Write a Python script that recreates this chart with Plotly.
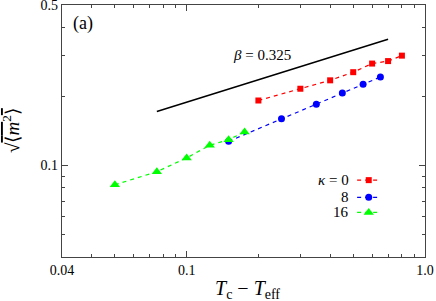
import plotly.graph_objects as go

# ---- data ----
x_k0 = [0.2, 0.3, 0.4, 0.5, 0.6, 0.7, 0.8]
y_k0 = [0.192, 0.216, 0.235, 0.255, 0.278, 0.285, 0.301]

x_k8 = [0.15, 0.25, 0.35, 0.45, 0.55, 0.65]
y_k8 = [0.1275, 0.160, 0.185, 0.207, 0.226, 0.243]

x_k16 = [0.05, 0.075, 0.1, 0.125, 0.15, 0.175]
y_k16 = [0.0825, 0.094, 0.108, 0.1225, 0.1297, 0.140]

x_beta = [0.075, 0.7]
y_beta = [0.172, 0.355]

legend_names = ["<i>κ</i> = 0", "8", "16"]
x_ticks = [0.03, 0.1, 1.0]
x_ticktext = ["0.04", "0.1", "1.0"]
x_minor = [0.04, 0.05, 0.06, 0.07, 0.08, 0.09, 0.2, 0.3, 0.4, 0.5, 0.6, 0.7, 0.8, 0.9]
y_ticks = [0.1, 0.5]
y_ticktext = ["0.1", "0.5"]
y_minor = [0.05, 0.06, 0.07, 0.08, 0.09, 0.2, 0.3, 0.4]

FONT = "Liberation Serif"
colors = ["#ff0000", "#0000ff", "#00ff00"]
symbols = ["square", "circle", "triangle-up"]
sizes = [6, 7, 9]
dash = "4px,4px"

fig = go.Figure()

series = [(x_k0, y_k0), (x_k8, y_k8), (x_k16, y_k16)]
for (xs, ys), c, s, sz in zip(series, colors, symbols, sizes):
    fig.add_trace(go.Scatter(
        x=xs, y=ys, mode="lines+markers",
        line=dict(color=c, width=1.2, dash=dash),
        marker=dict(color=c, symbol=s, size=sz, line=dict(width=0)),
        showlegend=False,
    ))

fig.add_trace(go.Scatter(x=x_beta, y=y_beta, mode="lines",
                         line=dict(color="black", width=1.5), showlegend=False))

# ---- custom legend (text left of sample) on an overlay unit axis ----
leg_rows = [0.305, 0.237, 0.177]
for name, c, s, sz, ry in zip(legend_names, colors, symbols, sizes, leg_rows):
    fig.add_trace(go.Scatter(
        x=[0.813, 0.845, 0.878], y=[ry, ry, ry], xaxis="x2", yaxis="y2",
        mode="lines", line=dict(color=c, width=1.2, dash="4px,4px"),
        showlegend=False, hoverinfo="skip"))
    fig.add_trace(go.Scatter(
        x=[0.845], y=[ry], xaxis="x2", yaxis="y2", mode="markers",
        marker=dict(color=c, symbol=s, size=sz, line=dict(width=0)),
        showlegend=False, hoverinfo="skip"))
    fig.add_annotation(x=0.795, y=ry, xref="x2", yref="y2", text=name,
                       showarrow=False, xanchor="right", yanchor="middle",
                       font=dict(family=FONT, size=15, color="black"))

axis_common = dict(
    type="log", showgrid=False, zeroline=False,
    showline=True, linecolor="#444", linewidth=1.3,
    mirror="allticks", ticks="inside", ticklen=6, tickwidth=1, tickcolor="#444",
    tickfont=dict(family=FONT, size=14, color="black"),
    ticklabeloverflow="allow", automargin=False,
)

fig.update_layout(
    width=436, height=301,
    margin=dict(l=62, r=11, t=5, b=44, autoexpand=False),
    paper_bgcolor="white", plot_bgcolor="white",
    font=dict(family=FONT),
    xaxis=dict(axis_common, range=[-1.5228787, 0.000001], tickmode="array",
               tickvals=x_ticks, ticktext=x_ticktext,
               minor=dict(tickmode="array", tickvals=x_minor, ticks="inside",
                          ticklen=3, tickcolor="#444", showgrid=False)),
    yaxis=dict(axis_common, range=[-1.39794, -0.30102], tickmode="array",
               tickvals=y_ticks, ticktext=y_ticktext,
               minor=dict(tickmode="array", tickvals=y_minor, ticks="inside",
                          ticklen=3, tickcolor="#444", showgrid=False)),
    xaxis2=dict(overlaying="x", range=[0, 1], visible=False, fixedrange=True),
    yaxis2=dict(overlaying="y", range=[0, 1], visible=False, fixedrange=True),
)

fig.add_annotation(x=0.058, y=0.925, xref="paper", yref="paper", text="(a)",
                   showarrow=False, xanchor="center", yanchor="middle",
                   font=dict(family=FONT, size=18, color="black"))
fig.add_annotation(x=0.55, y=0.80, xref="paper", yref="paper",
                   text="<i>β</i> = 0.325",
                   showarrow=False, xanchor="center", yanchor="middle",
                   font=dict(family=FONT, size=15, color="black"))
fig.add_annotation(x=0.512, y=0, xref="paper", yref="paper",
                   text="<i>T</i><sub>c</sub> − <i>T</i><sub>eff</sub>",
                   showarrow=False, xanchor="center", yanchor="middle", yshift=-32,
                   font=dict(family=FONT, size=20, color="black"))
fig.add_annotation(x=0, y=0.5, xref="paper", yref="paper",
                   text="√<span style=\"text-decoration:overline\">⟨<i>m</i><sup>2</sup>⟩</span>",
                   showarrow=False, xanchor="center", yanchor="middle", xshift=-51,
                   textangle=-90,
                   font=dict(family=FONT, size=19, color="black"))

fig.write_html("out.html", config={"displayModeBar": False},
               post_script="document.body.style.margin='0';document.body.style.padding='0';")
